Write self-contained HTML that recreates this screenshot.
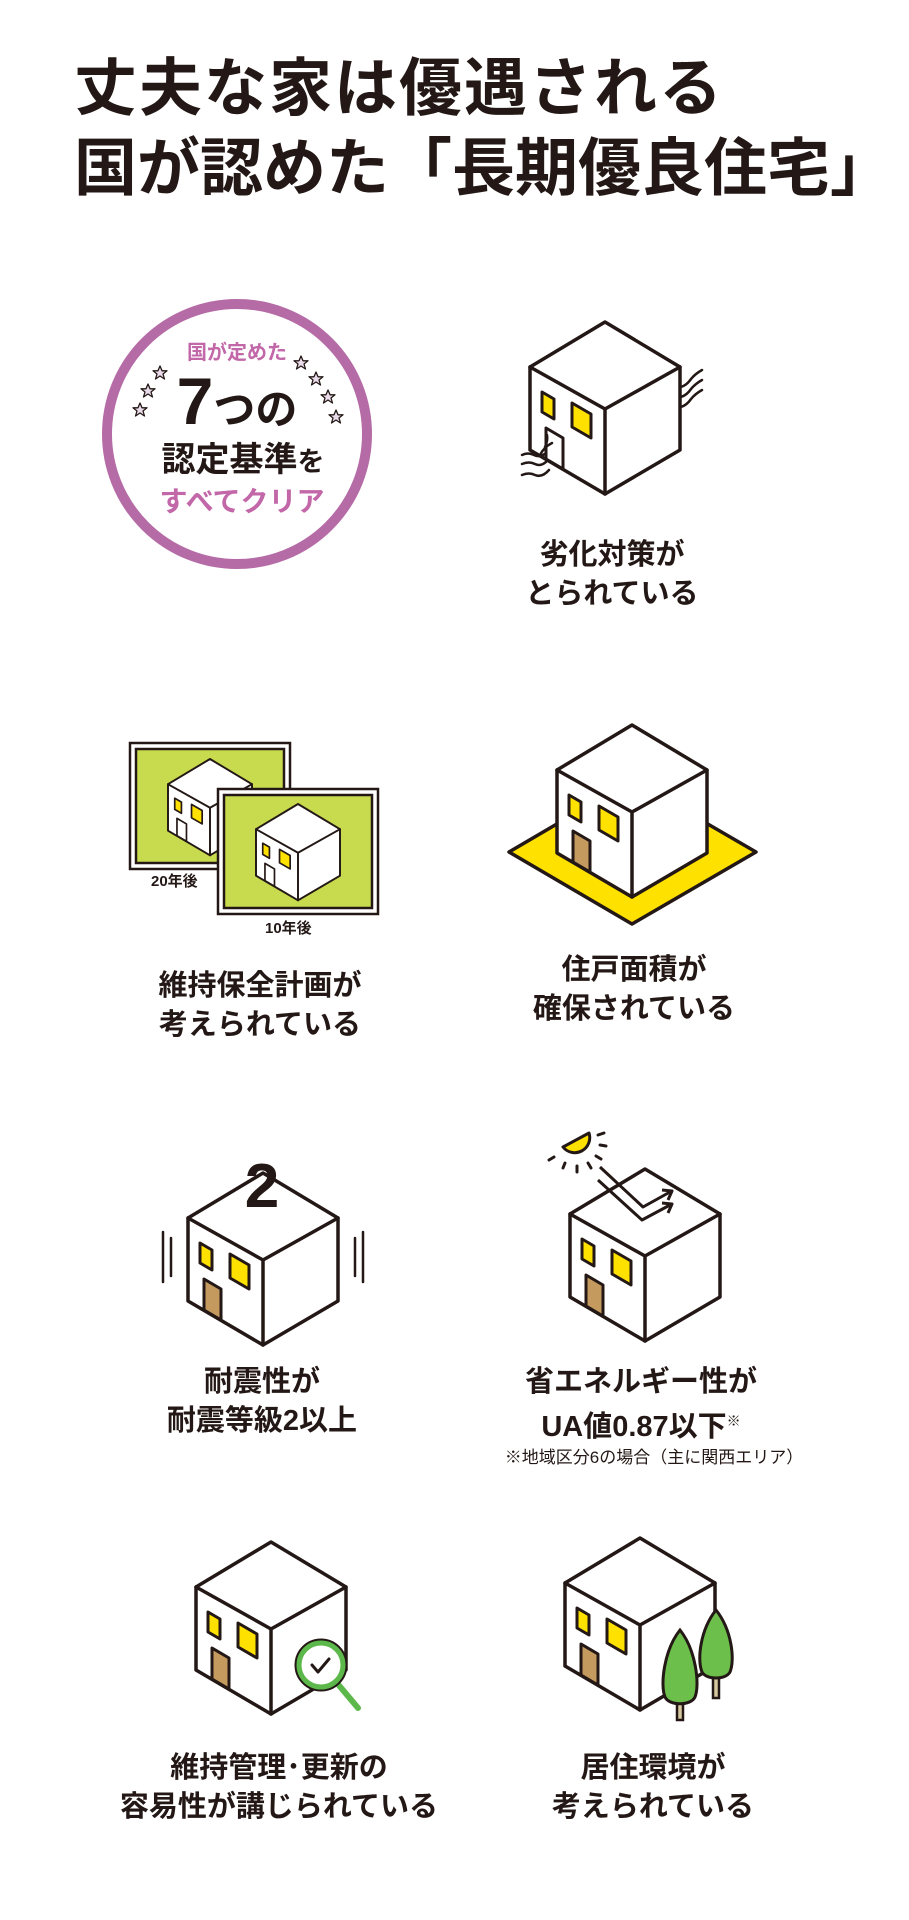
<!DOCTYPE html>
<html><head><meta charset="utf-8"><style>
body{margin:0;background:#fff;}
#c{position:relative;width:909px;height:1920px;overflow:hidden;font-family:"Liberation Sans","Noto Sans CJK JP",sans-serif;color:#231815;}
.t{position:absolute;white-space:nowrap;font-weight:bold;}
.title{left:74px;line-height:64px;}
.lab{font-size:29px;line-height:39px;transform:translateX(-50%);text-align:center;}
svg{position:absolute;left:0;top:0;}
</style></head><body><div id="c">
<svg width="909" height="1920" viewBox="0 0 909 1920">
<defs>
<g id="hb" stroke="#231815" stroke-width="3.5" stroke-linejoin="round" stroke-linecap="round">
<path d="M0,0 L75,45 L75,128 L0,172 L-75,128 L-75,45 Z" fill="#fff"/>
<path d="M-75,45 L0,87 L75,45 M0,87 V172" fill="none"/>
</g>
<g id="win" stroke="#231815" stroke-width="3" stroke-linejoin="round" fill="#ffe100">
<polygon points="-63,70 -51,77 -51,97 -63,90"/>
<polygon points="-33,81 -14,92 -14,116 -33,105"/>
</g>
<polygon id="door" points="-59,106 -42,116 -42,147 -59,137" fill="#c49a5e" stroke="#231815" stroke-width="3" stroke-linejoin="round"/>
<polygon id="door0" points="-59,106 -42,116 -42,147 -59,137" fill="none" stroke="#231815" stroke-width="3" stroke-linejoin="round"/>
<polygon id="star" points="0,-7 2,-2.2 7,-2.2 3,1 4.5,6 0,3 -4.5,6 -3,1 -7,-2.2 -2,-2.2" fill="#eadcea" stroke="#231815" stroke-width="1.3" stroke-linejoin="round"/>
</defs>

<!-- badge -->
<circle cx="237" cy="434" r="130" fill="#fff" stroke="#b56ba6" stroke-width="10"/>
<use href="#star" x="160" y="373"/><use href="#star" x="148" y="391"/><use href="#star" x="140" y="410"/>
<use href="#star" x="301" y="363"/><use href="#star" x="316" y="379"/><use href="#star" x="328" y="397"/><use href="#star" x="336" y="417"/>

<!-- house 1 -->
<g transform="translate(605,322)">
<use href="#hb"/><use href="#win"/><use href="#door0"/>
</g>
<path d="M522,455 q6,-3 12,0 q6,3 12,-2 M522,464 q7,-3 13,0 q6,3 12,-3 M522,475 q7,-3 13,0 q7,3 14,-5 M540,455 q4,-8 12,-12 M545,447 q3,-6 2,-12" fill="none" stroke="#231815" stroke-width="2.5" stroke-linecap="round"/>
<path d="M681,387 q6,-2 10,-8 q4,-5 11,-9 M681,397 q6,-2 10,-8 q4,-5 11,-9 M681,407 q6,-2 10,-8 q4,-5 11,-9" fill="none" stroke="#231815" stroke-width="2.5" stroke-linecap="round"/>

<!-- panels -->
<rect x="130" y="743" width="160" height="126" fill="#fff" stroke="#231815" stroke-width="2.5"/>
<rect x="136" y="749" width="148" height="114" fill="#c8da4e" stroke="#231815" stroke-width="2.5"/>
<g transform="translate(210,759) scale(.56)"><use href="#hb"/><use href="#win"/><use href="#door0"/></g>
<rect x="218" y="789" width="160" height="125" fill="#fff" stroke="#231815" stroke-width="2.5"/>
<rect x="224" y="795" width="148" height="113" fill="#c8da4e" stroke="#231815" stroke-width="2.5"/>
<g transform="translate(298,804) scale(.56)"><use href="#hb"/><use href="#win"/><use href="#door0"/></g>

<!-- house 2 -->
<polygon points="509,852 632,780 756,852 632,924" fill="#ffe100" stroke="#231815" stroke-width="3.5" stroke-linejoin="round"/>
<g transform="translate(632,725)"><use href="#hb"/><use href="#win"/><use href="#door"/></g>

<!-- house 3 -->
<g transform="translate(263,1173)"><use href="#hb"/><use href="#win"/><use href="#door"/></g>
<path d="M163,1232 V1282 M171,1238 V1276 M355,1238 V1276 M363,1232 V1282" stroke="#231815" stroke-width="2.5" stroke-linecap="round"/>
<text x="262" y="1207" text-anchor="middle" font-family="Liberation Sans, sans-serif" font-weight="bold" font-size="62" fill="#231815" stroke="#fff" stroke-width="0">2</text>

<!-- house 4 -->
<g transform="translate(645,1169)"><use href="#hb"/><use href="#win"/><use href="#door"/></g>
<path d="M563,1147 A15,15 0 0 0 589,1133 Z" fill="#ffe100" stroke="#231815" stroke-width="3" stroke-linejoin="round"/>
<path d="M554,1157 l-5,3 M565,1163 l-2,5 M577,1166 v6 M588,1163 l3,5 M596,1156 l5,3 M600,1145 l6,1 M598,1135 l6,-2" stroke="#231815" stroke-width="3" stroke-linecap="round"/>
<path d="M600,1167 L643,1207 L670,1192 M598,1180 L642,1220 L670,1205" fill="none" stroke="#231815" stroke-width="3" stroke-linejoin="round"/>
<path d="M662,1190 L672,1191 L668,1200 M662,1203 L672,1204 L668,1213" fill="none" stroke="#231815" stroke-width="3" stroke-linejoin="round"/>

<!-- house 5 -->
<g transform="translate(271,1542)"><use href="#hb"/><use href="#win"/><use href="#door"/></g>
<line x1="337" y1="1683" x2="358" y2="1708" stroke="#5cb84a" stroke-width="6" stroke-linecap="round"/>
<circle cx="321" cy="1665" r="22" fill="#fff" stroke="#231815" stroke-width="9"/>
<circle cx="321" cy="1665" r="22" fill="#fff" stroke="#5cb84a" stroke-width="5"/>
<path d="M312,1665 l6,7 l11,-13" fill="none" stroke="#231815" stroke-width="3" stroke-linecap="round" stroke-linejoin="round"/>

<!-- house 6 -->
<g transform="translate(640,1538)"><use href="#hb"/><use href="#win"/><use href="#door"/></g>
<rect x="713" y="1660" width="6" height="38" fill="#d6c9a0" stroke="#231815" stroke-width="2.5"/>
<path d="M716,1610 C700,1630 697,1660 702,1672 C706,1680 726,1680 730,1672 C735,1660 732,1630 716,1610 Z" fill="#6cbf4b" stroke="#231815" stroke-width="3"/>
<rect x="677" y="1690" width="6" height="30" fill="#d6c9a0" stroke="#231815" stroke-width="2.5"/>
<path d="M680,1630 C664,1650 660,1685 665,1697 C669,1706 691,1706 695,1697 C700,1685 696,1650 680,1630 Z" fill="#6cbf4b" stroke="#231815" stroke-width="3"/>
</svg>

<div class="t title" style="top:57px;font-size:63px;letter-spacing:2px">丈夫な家は優遇される</div>
<div class="t title" style="top:137px;font-size:63px;letter-spacing:0">国が認めた「長期優良住宅」</div>

<div class="t" style="left:237px;top:340px;transform:translateX(-50%);font-size:20px;line-height:26px;color:#c267a8">国が定めた</div>
<div class="t" style="left:237px;top:366px;transform:translateX(-50%);line-height:70px;"><span style="font-size:66px">7</span><span style="font-size:42px">つの</span></div>
<div class="t" style="left:243px;top:440px;transform:translateX(-50%);font-size:34px;line-height:40px">認定基準<span style="font-size:27px">を</span></div>
<div class="t" style="left:242px;top:485px;transform:translateX(-50%);font-size:28px;line-height:34px;color:#c267a8">すべてクリア</div>

<div class="t" style="left:151px;top:872px;font-size:15px;line-height:20px">20年後</div>
<div class="t" style="left:265px;top:919px;font-size:15px;line-height:20px">10年後</div>

<div class="t lab" style="left:612px;top:536px">劣化対策が<br>とられている</div>
<div class="t lab" style="left:260px;top:967px">維持保全計画が<br>考えられている</div>
<div class="t lab" style="left:634px;top:951px">住戸面積が<br>確保されている</div>
<div class="t lab" style="left:262px;top:1363px">耐震性が<br>耐震等級2以上</div>
<div class="t lab" style="left:641px;top:1363px">省エネルギー性が<br>UA値0.87以下<sup style="font-size:14px;vertical-align:10px">※</sup></div>
<div class="t" style="left:654px;top:1446px;transform:translateX(-50%);font-size:17px;line-height:24px;font-weight:normal">※地域区分6の場合（主に関西エリア）</div>
<div class="t lab" style="left:279px;top:1749px">維持管理･更新の<br>容易性が講じられている</div>
<div class="t lab" style="left:653px;top:1749px">居住環境が<br>考えられている</div>
</div></body></html>
